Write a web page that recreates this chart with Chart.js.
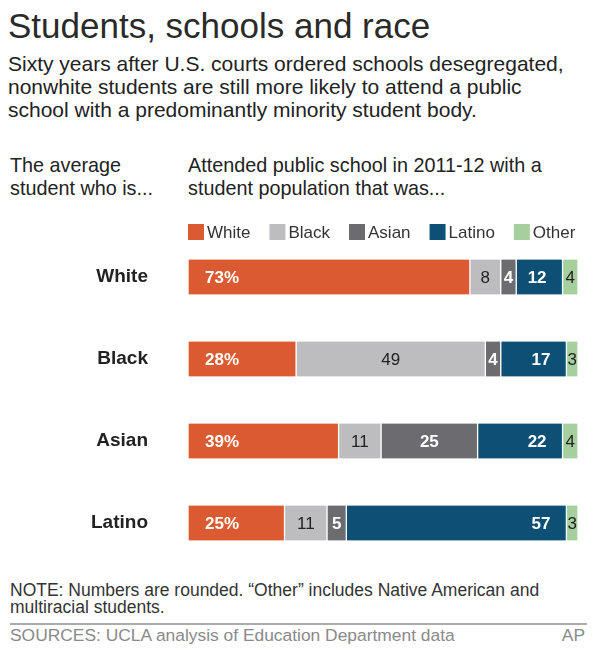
<!DOCTYPE html>
<html>
<head>
<meta charset="utf-8">
<script src="https://cdn.jsdelivr.net/npm/chart.js@4.4.1/dist/chart.umd.min.js"></script>
<style>
  html, body { margin: 0; padding: 0; background: #fff; }
  body { width: 609px; height: 667px; position: relative; overflow: hidden;
         font-family: "Liberation Sans", Arial, sans-serif; color: #222; }
  .t { position: absolute; white-space: nowrap; }
  #title { left: 8px; top: 6px; font-size: 35px; line-height: 40px; color: #2a2a2a; }
  #sub { left: 8px; top: 52px; font-size: 21px; line-height: 23px; }
  #lhead { left: 10px; top: 154px; font-size: 19.8px; line-height: 23px; }
  #rhead { left: 188px; top: 154px; font-size: 19.8px; line-height: 23px; }
  #note { left: 10px; top: 582px; font-size: 17.5px; line-height: 17px; color: #333; }
  #rule { position: absolute; left: 10px; top: 623px; width: 577px; height: 2px; background: #ababab; }
  #src { left: 10px; top: 626px; font-size: 17.4px; line-height: 19px; color: #8a8a8a; }
  #ap { right: 24px; top: 626px; font-size: 17.4px; line-height: 19px; color: #8a8a8a; }
  #chart { position: absolute; left: 0; top: 205px; }
</style>
</head>
<body>
<div class="t" id="title">Students, schools and race</div>
<div class="t" id="sub">Sixty years after U.S. courts ordered schools desegregated,<br>nonwhite students are still more likely to attend a public<br>school with a predominantly minority student body.</div>
<div class="t" id="lhead">The average<br>student who is...</div>
<div class="t" id="rhead">Attended public school in 2011-12 with a<br>student population that was...</div>
<canvas id="chart" width="609" height="365"></canvas>
<div class="t" id="note">NOTE: Numbers are rounded. “Other” includes Native American and<br>multiracial students.</div>
<div id="rule"></div>
<div class="t" id="src">SOURCES: UCLA analysis of Education Department data</div>
<div class="t" id="ap">AP</div>

<script>
// student group of the average student (rows)
const groups = ["White", "Black", "Asian", "Latino"];
// share of each race in the school they attended, percent
const whiteShare = [73, 28, 39, 25];
const blackShare = [8, 49, 11, 11];
const asianShare = [4, 4, 25, 5];
const latinoShare = [12, 17, 22, 57];
const otherShare = [4, 3, 4, 3];
const seriesNames = ["White", "Black", "Asian", "Latino", "Other"];

const colors = ["#db5a32", "#bdbdbf", "#6b6b70", "#0e5075", "#a5cf9d"];
// how the number inside each segment is written
const labelStyle = [
  { color: "#fff", weight: "bold", align: "left" },
  { color: "#222", weight: "normal", align: "center" },
  { color: "#fff", weight: "bold", align: "center" },
  { color: "#fff", weight: "bold", align: "right" },
  { color: "#222", weight: "normal", align: "center" },
];
const FONT = '"Liberation Sans", Arial, sans-serif';

Chart.defaults.font.family = FONT;

const seriesData = [whiteShare, blackShare, asianShare, latinoShare, otherShare];

// numbers inside the bars
const segmentLabels = {
  id: "segmentLabels",
  afterDatasetsDraw(chart) {
    const ctx = chart.ctx;
    ctx.save();
    ctx.textBaseline = "middle";
    chart.data.datasets.forEach((ds, di) => {
      const st = labelStyle[di];
      ctx.fillStyle = st.color;
      ctx.font = `${st.weight} 17px ${FONT}`;
      chart.getDatasetMeta(di).data.forEach((bar, i) => {
        const { x, base, y } = bar.getProps(["x", "base", "y"], true);
        const v = ds.data[i];
        const txt = di === 0 ? v + "%" : String(v);
        if (st.align === "left") {
          ctx.textAlign = "left";
          ctx.fillText(txt, base + 17, y + 1);
        } else if (st.align === "right") {
          ctx.textAlign = "right";
          ctx.fillText(txt, x - 16, y + 1);
        } else {
          ctx.textAlign = "center";
          ctx.fillText(txt, (x + base) / 2, y + 1);
        }
      });
    });
    ctx.restore();
  },
};

// legend row above the bars, tight box/text spacing like the original
const topLegend = {
  id: "topLegend",
  afterDraw(chart) {
    const ctx = chart.ctx;
    const yc = 27;
    let x = chart.chartArea.left;
    ctx.save();
    ctx.font = `17px ${FONT}`;
    ctx.textBaseline = "middle";
    ctx.textAlign = "left";
    chart.data.datasets.forEach((ds) => {
      ctx.fillStyle = ds.backgroundColor;
      ctx.fillRect(x, yc - 8, 16, 16);
      x += 19;
      ctx.fillStyle = "#333";
      ctx.fillText(ds.label, x, yc + 1);
      x += ctx.measureText(ds.label).width + 19;
    });
    ctx.restore();
  },
};

new Chart(document.getElementById("chart"), {
  type: "bar",
  data: {
    labels: groups,
    datasets: seriesNames.map((name, i) => ({
      label: name,
      data: seriesData[i],
      backgroundColor: colors[i],
      borderColor: "#fff",
      borderWidth: { left: 1, right: 1, top: 0, bottom: 0 },
      borderSkipped: false,
      barThickness: 35,
    })),
  },
  options: {
    indexAxis: "y",
    responsive: false,
    animation: false,
    devicePixelRatio: 1,
    layout: { padding: { left: 0, right: 31, top: 31, bottom: 6 } },
    plugins: {
      legend: { display: false },
      tooltip: { enabled: false },
    },
    scales: {
      x: { stacked: true, min: 0, max: 101, display: false },
      y: {
        stacked: true,
        grid: { display: false, drawTicks: false },
        border: { display: false },
        ticks: {
          color: "#222",
          padding: 40,
          font: { size: 19, weight: "bold", family: FONT },
        },
        afterFit(scale) {
          // tick padding is meant for the gap to the bars only, not the top/bottom
          scale.width = 188;
          scale.paddingTop = 0;
          scale.paddingBottom = 0;
        },
      },
    },
  },
  plugins: [segmentLabels, topLegend],
});
</script>
</body>
</html>
